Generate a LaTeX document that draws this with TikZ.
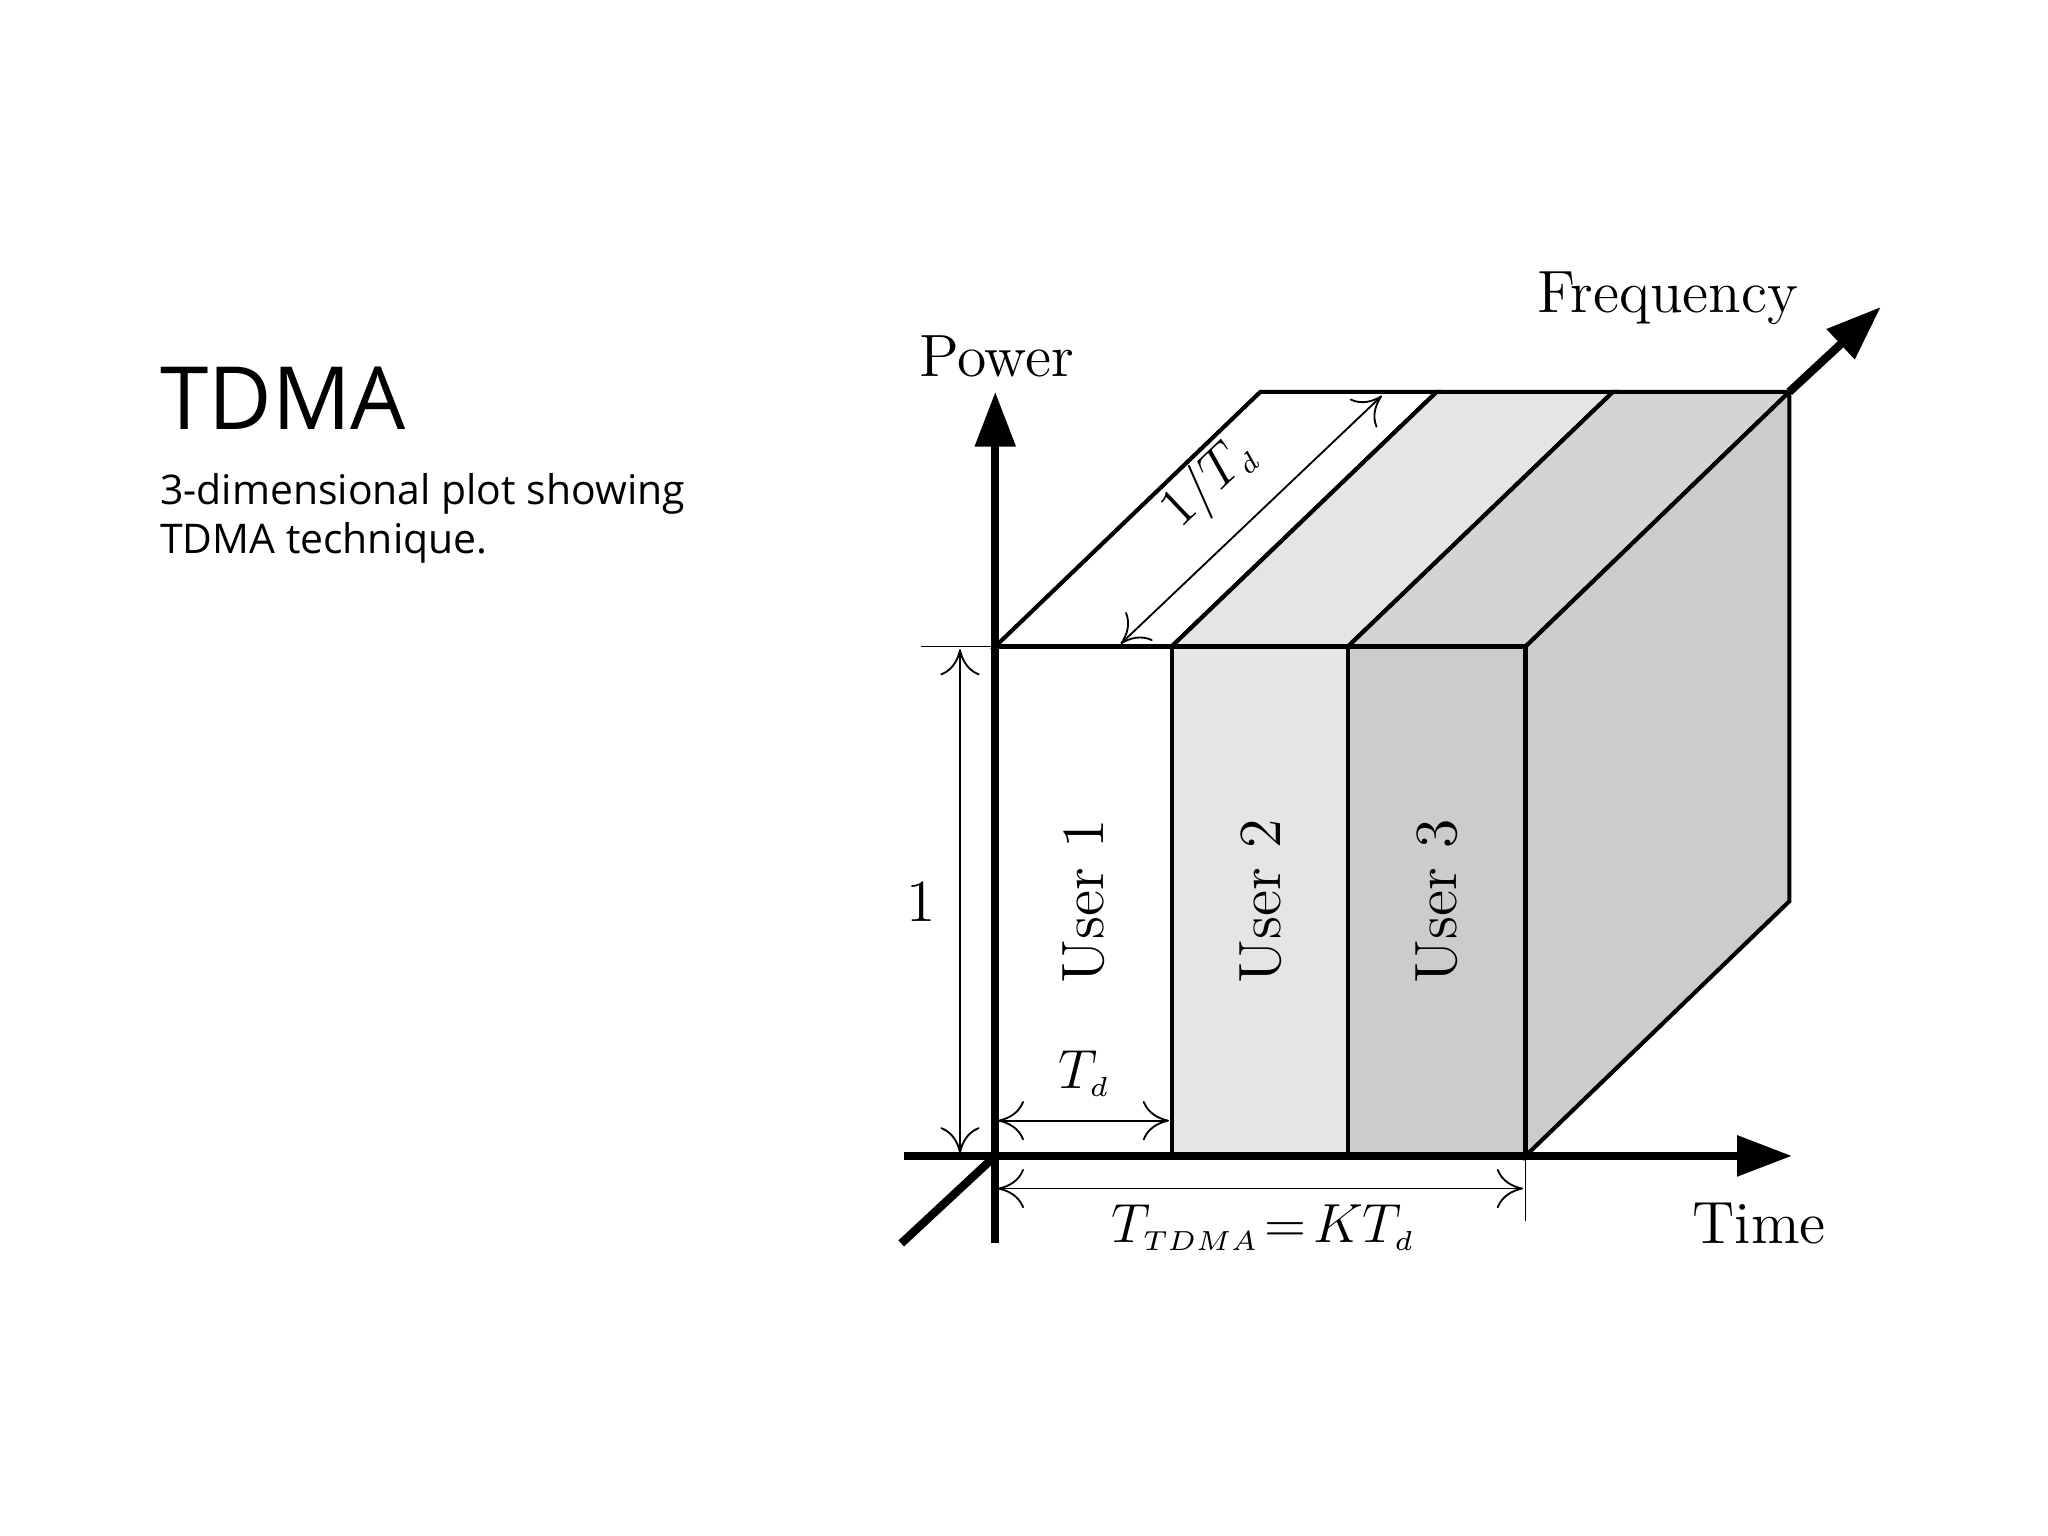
\documentclass[tikz,border=0pt]{standalone}
\usepackage{fontspec}
\newfontfamily\uifont{Open Sans}
\usetikzlibrary{arrows.meta}
\begin{document}
\begin{tikzpicture}[x=0.01cm,y=-0.01cm,
  face/.style={draw=black,line width=0.9pt},
  axis/.style={line width=1.8pt,-{Triangle[length=0.42cm,width=0.3cm]}},
  dim/.style={line width=0.4pt,{To[length=0.2cm,width=0.3cm]}-{To[length=0.2cm,width=0.3cm]}},
  thin/.style={line width=0.4pt},
  lbl/.style={font=\fontsize{13}{15}\selectfont}]
\useasboundingbox (0,0) rectangle (1568,1176);
% top face strips
\filldraw[face,fill=white] (762,495) -- (897,495) -- (1100,300) -- (965,300) -- cycle;
\filldraw[face,fill=black!10] (897,495) -- (1032,495) -- (1235,300) -- (1100,300) -- cycle;
\filldraw[face,fill=black!17] (1032,495) -- (1168,495) -- (1370,300) -- (1235,300) -- cycle;
% right face
\filldraw[face,fill=black!20] (1168,495) -- (1370,300) -- (1370,690) -- (1168,885) -- cycle;
% front strips
\filldraw[face,fill=white] (762,495) rectangle (897,885);
\filldraw[face,fill=black!10] (897,495) rectangle (1032,885);
\filldraw[face,fill=black!20] (1032,495) rectangle (1168,885);
% axes
\coordinate (O) at (762,885);
\coordinate (P) at (762,300);
\coordinate (T) at (1372,885);
\coordinate (F1) at (1370,300);
\coordinate (F2) at (1440,235);
\draw[axis] (762,952) -- (P);
\draw[axis] (692,885) -- (T);
\draw[line width=1.8pt] (690,952) -- (O);
\draw[axis] (F1) -- (F2);
\node[lbl] (pw) at (763,273) {Power};
\node[lbl] (fq) at (1277,228) {Frequency};
\node[lbl] (tm) at (1347,937) {Time};
% users
\node[lbl,rotate=90] (u1) at (830,690) {User 1};
\node[lbl,rotate=90] (u2) at (965,690) {User 2};
\node[lbl,rotate=90] (u3) at (1100,690) {User 3};
% dimension 1
\draw[thin] (705,495) -- (762,495);
\draw[dim] (735,497) -- (735,883);
\node[lbl] (one) at (705,690) {1};
% Td
\draw[dim] (764,858) -- (895,858);
\node[lbl] (td) at (830,822) {$T_{\scriptscriptstyle d}$};
% TTDMA
\draw[thin] (1168,885) -- (1168,935);
\draw[dim] (764,910) -- (1166,910);
\node[lbl] (tt) at (967,940) {$T_{\scriptscriptstyle TDMA}\!=\!KT_{\scriptscriptstyle d}$};
% 1/Td
\draw[dim] (858,493) -- (1058,303);
\node[lbl,rotate=43.5] (ft) at (926,370) {$1/T_{\scriptscriptstyle d}$};
% text
\node[anchor=west,inner sep=0pt,font=\uifont\fontsize{19}{23}\selectfont] (title) at (122,305) {TDMA};
\node[anchor=north west,inner sep=0pt,align=left,font=\uifont\fontsize{8.9}{10.6}\selectfont] (sub) at (122,362) {3-dimensional plot showing\\TDMA technique.};
\end{tikzpicture}
\end{document}
